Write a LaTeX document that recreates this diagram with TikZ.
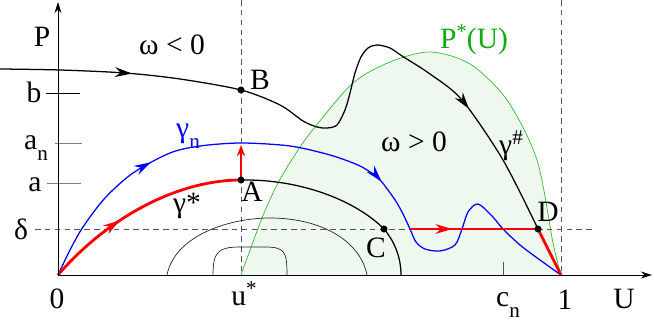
\documentclass[tikz,border=0pt]{standalone}
\usepackage{fontspec}
\setmainfont{Liberation Serif}
\newfontfamily\lblfont{Liberation Serif}
\usetikzlibrary{arrows.meta,decorations.markings}
\definecolor{curvegreen}{HTML}{33BB33}
\definecolor{textgreen}{HTML}{11A811}
\definecolor{regionfill}{HTML}{EFF8EF}
\definecolor{dashgray}{HTML}{555555}
\newcommand{\lo}[1]{\raisebox{-8pt}{\fontsize{15}{17}\selectfont #1}}
\newcommand{\hi}[1]{\raisebox{7pt}{\fontsize{15}{17}\selectfont #1}}
\tikzset{
  axis/.style={line width=0.6pt,-{Stealth[length=8pt,width=5pt]}},
  guide/.style={dashgray,line width=0.5pt,dash pattern=on 4pt off 3pt},
  tickmark/.style={line width=0.6pt,#1},
  tickmark/.default={black},
  orbit/.style={line width=0.9pt,#1},
  orbit/.default={black},
  level/.style={line width=0.5pt,black!85},
  midarr/.style={postaction={decorate,decoration={markings,
    mark=at position #1 with {\arrow{Stealth[length=12pt,width=7pt]}}}}},
  pt/.style={circle,fill=black,inner sep=0pt,minimum size=5pt},
  lbl/.style={font=\lblfont\fontsize{21}{25}\selectfont,inner sep=0pt},
}

\begin{document}
\begin{tikzpicture}[x=0.025cm,y=-0.025cm]
  \useasboundingbox (0,0) rectangle (654,320);
  \coordinate (O) at (58,275);
  \coordinate (S) at (241,275);
  \coordinate (E) at (561,275);
  \coordinate (A) at (241,180);
  \coordinate (B) at (241,90);
  \coordinate (C) at (384,229);
  \coordinate (D) at (538,229);
  \coordinate (Dl) at (410,229);
  \coordinate (Atop) at (241,145);
  \fill[regionfill] plot[smooth] coordinates {(S) (262,218) (278,183) (298,150)
    (315,127) (353,83) (390,62) (430,52) (470,64) (507,100) (537,160) (553,243) (E)} -- cycle;
  \draw[curvegreen,line width=0.5pt] plot[smooth] coordinates {(S) (262,218) (278,183) (298,150)
    (315,127) (353,83) (390,62) (430,52) (470,64) (507,100) (537,160) (553,243) (E)};
  \draw[guide] (241,0) -- (S);
  \draw[guide] (561,0) -- (E);
  \draw[guide] (35,229) -- (595,229);
  \draw[tickmark] (46,93) -- (80,93);
  \draw[tickmark=gray] (55,143) -- (82,143);
  \draw[tickmark=gray] (47,183) -- (81,183);
  \draw[tickmark=dashgray] (503,262) -- (503,275);
  \draw[level] (167,275) .. controls (175,235) and (230,218) .. (270,218)
    .. controls (320,218) and (360,240) .. (367,275);
  \draw[level] (213,275) .. controls (213,252) and (218,247) .. (240,247) -- (265,247)
    .. controls (285,247) and (287,252) .. (287,275);
  \draw[orbit,midarr=0.19,midarr=0.8] plot[smooth] coordinates {(0,69) (60,70) (125,73)
    (180,79) (B) (280,105) (303,121) (317,127) (327,128) (337,125) (345,110) (350,93)
    (355,73) (361,57) (368,48) (377,45) (390,48) (402,56) (430,74) (462,100) (503,160) (D)};
  \draw[orbit] (A) .. controls (300,179) and (355,200) .. (C)
    .. controls (395,242) and (401,258) .. (401,275);
  \draw[orbit=blue,midarr=0.225,midarr=0.59] plot[smooth] coordinates {(O) (70,250) (83,227)
    (105,198) (133,173) (170,153) (200,146) (241,143) (290,146) (330,155) (360,166) (378,178)
    (388,190) (397,203) (404,216) (Dl) (416,242) (425,249) (440,251) (455,245) (462,229)
    (468,212) (478,204) (492,216) (503,229) (520,245) (540,260) (E)};
  \draw[orbit=red,line width=2pt,midarr=0.39] (O) .. controls (110,215) and (180,180) .. (A);
  \draw[orbit=red,midarr=0.33] (Dl) -- (D);
  \draw[red,line width=2pt] (D) -- (E);
  \draw[red,line width=2pt,-{Stealth[length=8pt,width=6pt]}] (A) -- (Atop);
  \draw[axis] (O) -- (58,2);
  \draw[axis] (O) -- (652,275);
  \node[pt] (pA) at (A) {};
  \node[pt] (pB) at (B) {};
  \node[pt] (pC) at (C) {};
  \node[pt] (pD) at (D) {};
  \node[lbl] (lP) at (42,37) {P};
  \node[lbl] (lneg) at (172,45) {ω < 0};
  \node[lbl] (lpos) at (414,142) {ω > 0};
  \node[lbl] (lB) at (260,80) {B};
  \node[lbl] (lA) at (252,192) {A};
  \node[lbl] (lC) at (376,248) {C};
  \node[lbl] (lD) at (548,212) {D};
  \node[lbl] (lb) at (34,92) {b};
  \node[lbl] (lan) at (36,148) {a\lo{n}};
  \node[lbl] (la) at (35,185) {a};
  \node[lbl] (ldelta) at (21,229) {δ};
  \node[lbl,blue] (lgn) at (188,136) {γ\lo{n}};
  \node[lbl] (lgs) at (187,206) {γ*};
  \node[lbl] (lgh) at (511,146) {γ\hi{\#}};
  \node[lbl,textgreen] (lPs) at (474,40) {P\hi{*}(U)};
  \node[lbl] (l0) at (57,299) {0};
  \node[lbl] (lus) at (244,294) {u\hi{*}};
  \node[lbl] (lcn) at (508,305) {c\lo{n}};
  \node[lbl] (l1) at (565,300) {1};
  \node[lbl] (lU) at (624,299) {U};
\end{tikzpicture}
\end{document}
